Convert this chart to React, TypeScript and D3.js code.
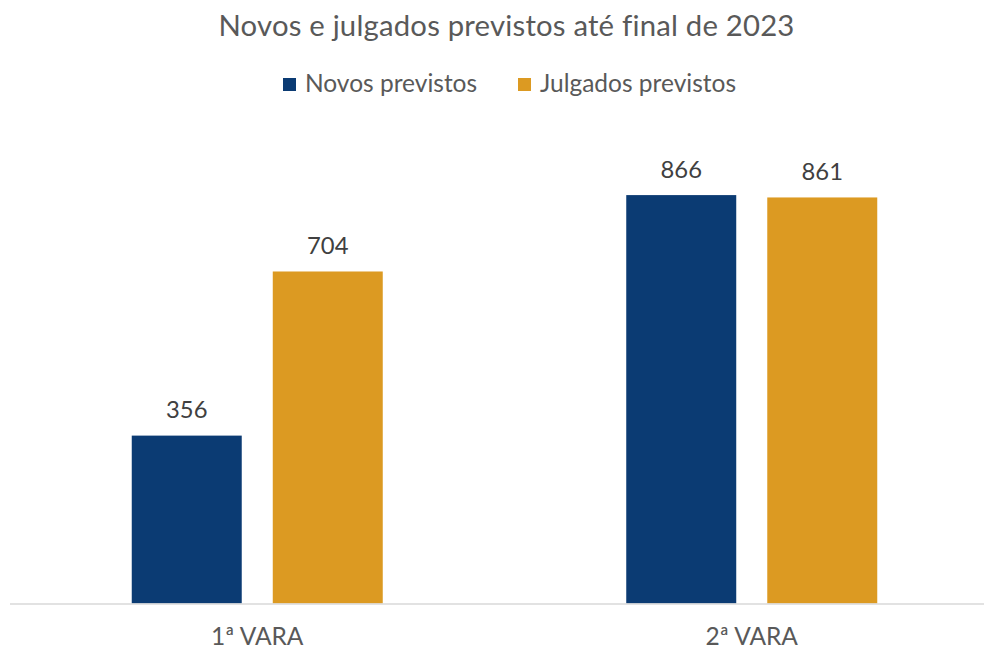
import React from 'react';
import * as d3 from 'd3';

const categories = ['1ª VARA', '2ª VARA'];
const seriesNames = ['Novos previstos', 'Julgados previstos'];
const novos = [356, 866];
const julgados = [704, 861];
const colors = ['#0b3b73', '#dc9a22'];

const width = 984;
const height = 648;
const font = 'Lato, "Open Sans", sans-serif';
const textColor = '#595959';

const App = () => {
  const x0 = d3.scaleBand<string>().domain(categories).range([10, 999]).padding(0);
  const x1 = d3
    .scaleBand<string>()
    .domain(seriesNames)
    .range([121.75, x0.bandwidth() - 121.75])
    .paddingInner(0.22);
  const y = d3.scaleLinear().domain([0, 1000]).range([603.5, 131.9]);

  const values = [novos, julgados];
  const legendX = [283, 518];

  return (
    <svg width={width} height={height} style={{ display: 'block', position: 'absolute', left: 0, top: 0 }}>
      <rect width={width} height={height} fill="#fff" />
      <text x={506.5} y={36} textAnchor="middle" fontFamily={font} fontSize={29.3} letterSpacing={0.2} fill={textColor}>
        Novos e julgados previstos até final de 2023
      </text>

      {/* legend */}
      {seriesNames.map((s, i) => (
        <g key={s} transform={`translate(${legendX[i]},78)`}>
          <rect width={13} height={13} fill={colors[i]} />
          <text x={22} y={14} fontFamily={font} fontSize={24.5} fill={textColor}>
            {s}
          </text>
        </g>
      ))}

      {/* bars */}
      {categories.map((c, ci) => (
        <g key={c} transform={`translate(${x0(c)},0)`}>
          {seriesNames.map((s, si) => {
            const v = values[si][ci];
            const bx = x1(s)!;
            return (
              <g key={s}>
                <rect x={bx} y={y(v)} width={x1.bandwidth()} height={y(0) - y(v)} fill={colors[si]} />
                <text
                  x={bx + x1.bandwidth() / 2}
                  y={y(v) - 17.5}
                  textAnchor="middle"
                  fontFamily={font}
                  fontSize={23.8}
                  fill="#404040"
                >
                  {v}
                </text>
              </g>
            );
          })}
          <text
            x={x0.bandwidth() / 2}
            y={644.5}
            textAnchor="middle"
            fontFamily={font}
            fontSize={24.5}
            fill={textColor}
          >
            {c}
          </text>
        </g>
      ))}

      <line x1={10} x2={984} y1={y(0) + 0.5} y2={y(0) + 0.5} stroke="#d9d9d9" strokeWidth={1.5} />
    </svg>
  );
};

export default App;
